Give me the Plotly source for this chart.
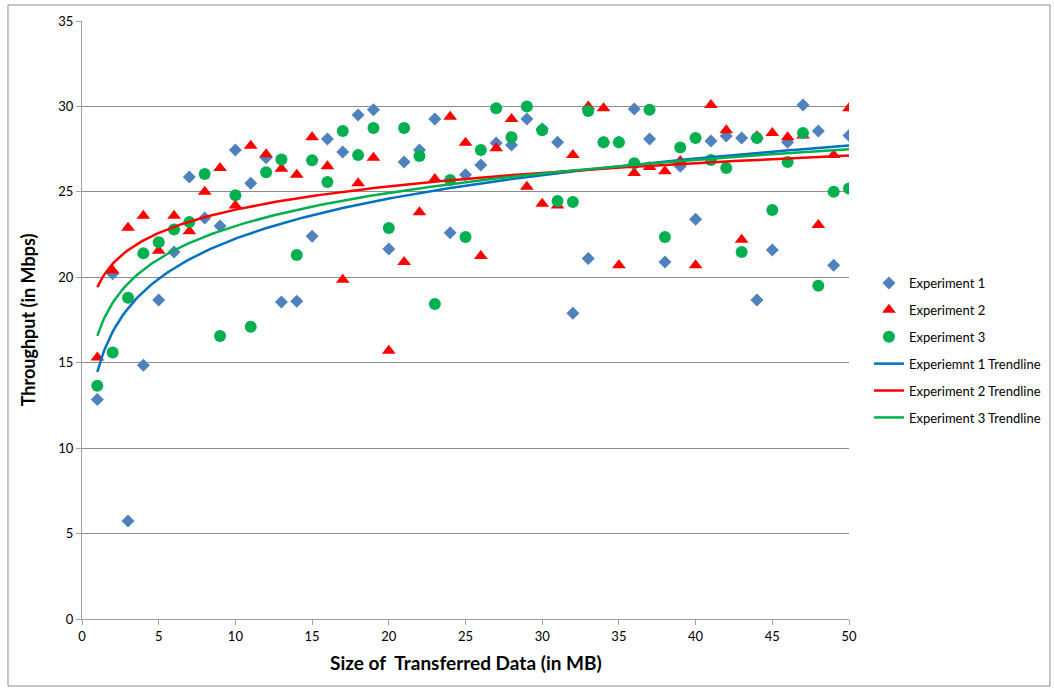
import numpy as np
import plotly.graph_objects as go

sizes = list(range(1, 51))

exp1 = [12.85, 20.2, 5.74, 14.85, 18.67, 21.48, 25.87, 23.47, 23.0, 27.45,
        25.5, 27.0, 18.55, 18.6, 22.4, 28.1, 27.33, 29.5, 29.8, 21.65,
        26.75, 27.45, 29.26, 22.6, 26.0, 26.57, 27.86, 27.74, 29.26, 28.7,
        27.9, 17.9, 21.1, 27.9, 27.9, 29.85, 28.1, 20.9, 26.5, 23.4,
        27.97, 28.27, 28.15, 18.67, 21.6, 27.9, 30.08, 28.56, 20.7, 28.3]

exp2 = [15.3, 20.4, 22.9, 23.6, 21.55, 23.6, 22.7, 25.0, 26.4, 24.2,
        27.7, 27.2, 26.35, 26.0, 28.2, 26.5, 19.85, 25.5, 27.0, 15.7,
        20.9, 23.8, 25.75, 29.4, 27.87, 21.25, 27.55, 29.26, 25.3, 24.3,
        24.2, 27.15, 30.0, 29.9, 20.7, 26.1, 26.45, 26.2, 26.8, 20.7,
        30.08, 28.6, 22.2, 28.26, 28.44, 28.2, 28.3, 23.06, 27.15, 29.9]

exp3 = [13.65, 15.6, 18.8, 21.4, 22.05, 22.8, 23.24, 26.05, 16.56, 24.8,
        17.1, 26.15, 26.9, 21.3, 26.85, 25.58, 28.56, 27.15, 28.74, 22.88,
        28.74, 27.1, 18.43, 25.7, 22.36, 27.45, 29.9, 28.2, 30.0, 28.6,
        24.47, 24.4, 29.73, 27.9, 27.9, 26.67, 29.8, 22.36, 27.6, 28.15,
        26.86, 26.4, 21.48, 28.15, 23.94, 26.75, 28.44, 19.5, 25.0, 25.2]

series_names = ["Experiment 1", "Experiment 2", "Experiment 3"]
trend_names = ["Experiemnt 1 Trendline", "Experiment 2 Trendline", "Experiment 3 Trendline"]
y_ticks = [0, 5, 10, 15, 20, 25, 30, 35]
x_ticks = [0, 5, 10, 15, 20, 25, 30, 35, 40, 45, 50]
x_title = "Size of  Transferred Data (in MB)"
y_title = "Throughput (in Mbps)"

marker_colors = ["#4F81BD", "#FF0000", "#00B050"]
marker_symbols = ["diamond", "triangle-up", "circle"]
marker_sizes = [10, 12, 12]
trend_colors = ["#0070C0", "#FF0000", "#00B050"]

font = "Lato, 'Open Sans', Arial, sans-serif"

fig = go.Figure()
for i, (name, ys, c, s, sz) in enumerate(zip(series_names, [exp1, exp2, exp3], marker_colors, marker_symbols, marker_sizes)):
    fig.add_trace(go.Scatter(x=sizes, y=ys, mode="markers", name=name, legendgroup=f"s{i}",
                             marker=dict(color=c, symbol=s, size=sz, line=dict(width=0))))

xs = np.array(sizes, dtype=float)
xfine = np.linspace(1, 50, 300)
for i, (name, ys, c) in enumerate(zip(trend_names, [exp1, exp2, exp3], trend_colors)):
    b, a = np.polyfit(np.log(xs), np.array(ys), 1)
    fig.add_trace(go.Scatter(x=xfine, y=a + b * np.log(xfine), mode="lines", name=name,
                             legendgroup=f"t{i}",
                             line=dict(color=c, width=2.5), hoverinfo="skip"))

fig.update_layout(
    width=1054, height=688,
    margin=dict(l=82, r=205, t=21, b=69, autoexpand=False),
    paper_bgcolor="white", plot_bgcolor="white",
    font=dict(family=font, size=13, color="#000000"),
    showlegend=True,
    legend=dict(x=1.026, xanchor="left", y=0.587, yanchor="top",
                font=dict(size=13, family=font), itemwidth=30,
                tracegroupgap=7, bgcolor="rgba(0,0,0,0)"),
    xaxis=dict(range=[0, 50], tickvals=x_ticks, showgrid=False, zeroline=False,
               showline=True, linecolor="#A0A0A0", linewidth=1, automargin=False,
               ticks="outside", ticklen=5, tickcolor="#A0A0A0"),
    yaxis=dict(range=[0, 35], tickvals=y_ticks, showgrid=True, gridcolor="#8C8C8C", gridwidth=1,
               zeroline=False, showline=True, linecolor="#A0A0A0", linewidth=1, automargin=False,
               ticks="outside", ticklen=5, tickcolor="#A0A0A0"),
)

fig.add_annotation(text=f"<b>{x_title}</b>", xref="paper", yref="paper", x=0.5, y=-0.072,
                   xanchor="center", yanchor="middle", showarrow=False, font=dict(size=19))
fig.add_annotation(text=f"<b>{y_title}</b>", xref="paper", yref="paper", x=-0.07, y=0.5,
                   xanchor="center", yanchor="middle", showarrow=False, textangle=-90,
                   font=dict(size=18))

fig.add_shape(type="rect", xref="paper", yref="paper",
              x0=-0.0965, x1=1.262, y0=-0.112, y1=1.0268,
              line=dict(color="#8C8C8C", width=1), fillcolor="rgba(0,0,0,0)", layer="below")

fig.write_html("out.html", config={"displayModeBar": False},
               post_script="document.body.style.margin='0px';")
